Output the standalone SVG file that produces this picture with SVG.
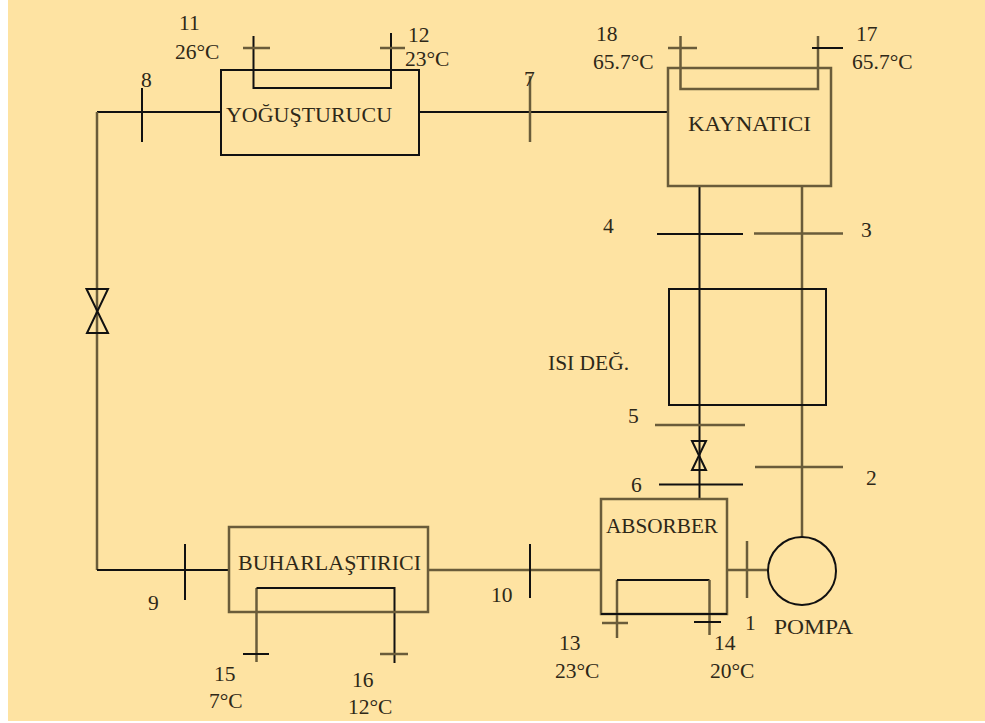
<svg xmlns="http://www.w3.org/2000/svg" width="985" height="723" viewBox="0 0 985 723">
<style>
.k{fill:none;stroke:#111;stroke-width:2}
.s{fill:none;stroke:#6a5c3a;stroke-width:2.500}
text{font-family:"Liberation Serif","Times New Roman",serif;font-size:20px;fill:#2e2818}
.n{font-size:21.500px}
</style>
<rect width="985" height="723" fill="#fff"/>
<rect x="8" y="0" width="977" height="721" fill="#fee3a2"/>
<g id="connectors">
<path class="k" d="M221 112H97"/>
<path class="s" d="M97 112V570"/>
<path class="k" d="M97 570H229"/>
<path class="k" d="M142 88V142"/>
<path class="k" d="M185 544V600"/>
<path class="k" d="M419 112H668"/>
<path class="s" d="M530 76V142"/>
<path class="s" d="M428 570H601"/>
<path class="k" d="M530 544V598"/>
<path class="s" d="M727 570H768"/>
<path class="s" d="M747 541V598"/>
<path class="k" d="M699.500 186V499"/>
<path class="s" d="M802 186V537"/>
<path class="k" d="M657 234H743"/>
<path class="s" d="M754 233.500H843"/>
<path class="s" d="M655 425H745"/>
<path class="k" d="M659 484.500H743"/>
<path class="s" d="M755 467H843"/>
<path class="k" d="M253.500 36V88H391V33"/>
<path class="s" d="M243 48H270M380 48H405"/>
<path class="s" d="M680.500 36V89H818V36"/>
<path class="s" d="M668 48H697"/>
<path class="k" d="M812 48H843"/>
<path class="s" d="M256.500 662V588"/>
<path class="k" d="M256.500 588H394.500V663"/>
<path class="k" d="M243 654H269"/>
<path class="s" d="M380 654H408"/>
<path class="s" d="M617 638V580"/>
<path class="k" d="M617 580H709.500"/>
<path class="s" d="M709.500 580V635"/>
<path class="s" d="M602 623H628"/>
<path class="k" d="M694 622H721"/>
</g>
<g id="valve-left"><path class="k" d="M86.500 289H108L87 333H108Z"/></g>
<g id="valve-right"><path class="k" d="M692 441H706L692 470H706Z"/></g>
<g id="condenser"><rect class="k" x="221" y="70" width="198" height="85"/><text x="226" y="122" textLength="166" lengthAdjust="spacingAndGlyphs">YOĞUŞTURUCU</text></g>
<g id="boiler"><rect class="s" x="668" y="68" width="163" height="118"/><text x="688" y="131" textLength="123" lengthAdjust="spacingAndGlyphs">KAYNATICI</text></g>
<g id="heat-exchanger"><rect class="k" x="669" y="289" width="157" height="116"/><text x="548" y="370" textLength="81" lengthAdjust="spacingAndGlyphs">ISI DEĞ.</text></g>
<g id="absorber"><rect class="s" x="601" y="499" width="126" height="115"/><path class="k" d="M601 614H727"/><text x="606" y="533" textLength="112" lengthAdjust="spacingAndGlyphs">ABSORBER</text></g>
<g id="evaporator"><rect class="s" x="229" y="527" width="199" height="85"/><text x="238" y="570" textLength="183" lengthAdjust="spacingAndGlyphs">BUHARLAŞTIRICI</text></g>
<g id="pump"><circle class="k" cx="802" cy="571" r="34"/><text x="774" y="634" textLength="79" lengthAdjust="spacingAndGlyphs">POMPA</text></g>
<g id="labels">
<text class="n" x="179" y="30">11</text><text class="n" x="175" y="59">26°C</text>
<text class="n" x="408" y="42">12</text><text class="n" x="405" y="66">23°C</text>
<text class="n" x="141" y="87">8</text>
<text class="n" x="524" y="86">7</text>
<text class="n" x="596" y="41">18</text><text class="n" x="593" y="69">65.7°C</text>
<text class="n" x="856" y="41">17</text><text class="n" x="852" y="69">65.7°C</text>
<text class="n" x="603" y="233">4</text>
<text class="n" x="861" y="237">3</text>
<text class="n" x="628" y="423">5</text>
<text class="n" x="866" y="485">2</text>
<text class="n" x="631" y="492">6</text>
<text class="n" x="745" y="630">1</text>
<text class="n" x="559" y="650">13</text><text class="n" x="555" y="678">23°C</text>
<text class="n" x="714" y="650">14</text><text class="n" x="710" y="678">20°C</text>
<text class="n" x="491" y="602">10</text>
<text class="n" x="148" y="610">9</text>
<text class="n" x="214" y="681">15</text><text class="n" x="209" y="708">7°C</text>
<text class="n" x="352" y="687">16</text><text class="n" x="348" y="714">12°C</text>
</g>
</svg>
